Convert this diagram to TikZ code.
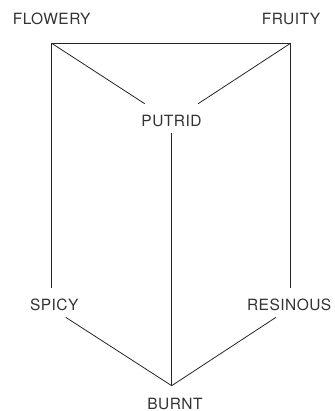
\documentclass[tikz,border=0pt]{standalone}
\usepackage{fontspec}
\setmainfont{TeX Gyre Heros}[LetterSpace=3]
\begin{document}
\begin{tikzpicture}[x=1pt,y=-1pt,
  lbl/.style={font=\fontsize{15.5}{18}\selectfont, text=black!80, anchor=base, inner sep=0pt},
  edge/.style={line width=0.8pt, draw=black!85}]
\useasboundingbox (0,0) rectangle (334,411);
% labels
\node[lbl] (flowery) at (51.7,25) {FLOWERY};
\node[lbl] (fruity) at (291,25) {FRUITY};
\node[lbl, text height=11.7pt, text depth=0pt, inner ysep=11.3pt, inner xsep=2pt] (putrid) at (171.5,127) {PUTRID};
\node[lbl] (spicy) at (54.3,310) {SPICY};
\node[lbl] (resinous) at (289.2,310) {RESINOUS};
\node[lbl] (burnt) at (175,409) {BURNT};
% corners
\coordinate (tl) at (51.7,43.3);
\coordinate (tr) at (290.5,43.3);
\coordinate (bl) at (51.7,288);
\coordinate (br) at (290.5,288);
\coordinate (apex) at (171.7,385.7);
\coordinate (s1) at (65.7,317.3);
\coordinate (r1) at (276,317.3);
% connectors
\draw[edge] (bl) -- (tl) -- (tr) -- (br);
\draw[edge] (tl) -- (putrid);
\draw[edge] (tr) -- (putrid);
\draw[edge, shorten >=-5.3pt] (apex) -- (putrid.south -| apex);
\draw[edge] (s1) -- (apex) -- (r1);
\end{tikzpicture}
\end{document}
